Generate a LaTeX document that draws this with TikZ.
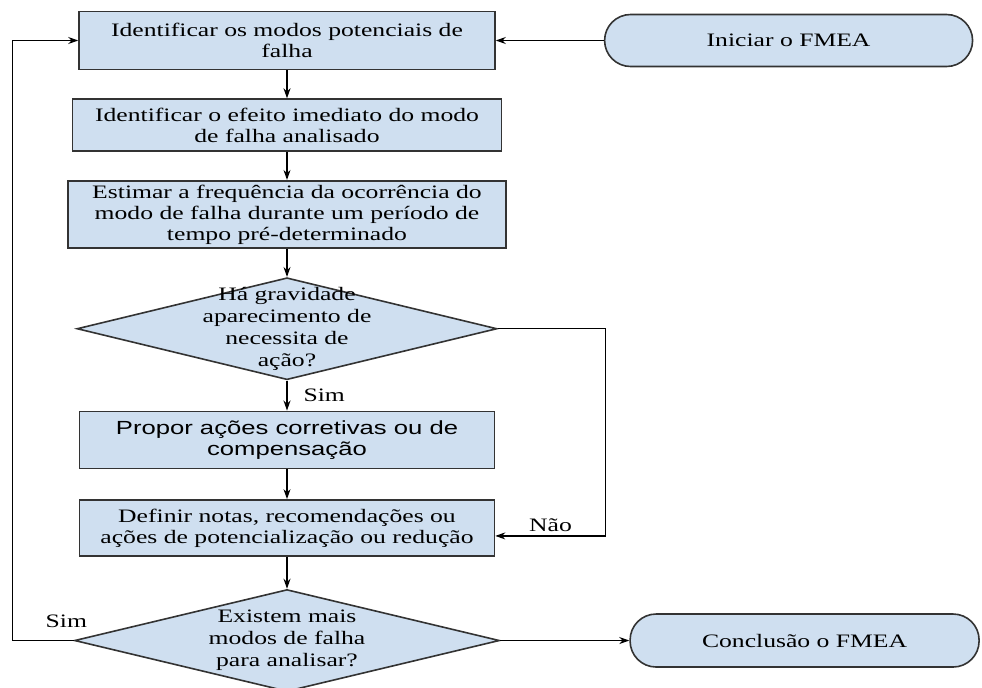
\documentclass[tikz,border=0pt]{standalone}
\usepackage{fontspec}
\setmainfont[FakeStretch=1.35]{Liberation Serif}
\setsansfont[FakeStretch=1.35]{Liberation Sans}
\usepackage{tikz}
\usetikzlibrary{arrows.meta,positioning,shapes.geometric}
\definecolor{boxfill}{HTML}{CFDFF0}
\definecolor{edge}{HTML}{333333}

\begin{document}
\begin{tikzpicture}[
  x=0.5pt, y=-0.5pt,
  node distance=14pt,
  every node/.style={font=\fontsize{9.5pt}{10.5pt}\selectfont},
  proc/.style={rectangle, draw=edge, line width=0.8pt, fill=boxfill,
               align=center, inner sep=2pt},
  term/.style={rectangle, rounded corners=13pt, draw=edge, line width=0.8pt,
               fill=boxfill, minimum height=26pt},
  decision/.style={diamond, draw=edge, line width=0.8pt, fill=boxfill,
                   inner sep=0pt, minimum height=51pt},
  dtext/.style={align=center, font=\fontsize{9.5pt}{11pt}\selectfont},
  flow/.style={-{Stealth[length=5pt,width=3.5pt]}, line width=0.6pt},
  lbl/.style={inner sep=1pt},
]
  \useasboundingbox (0,0) rectangle (982,687);

  \node[proc, minimum width=208pt, minimum height=29pt] (ident) at (287,40.5)
    {Identificar os modos potenciais de\\falha};
  \node[term, minimum width=184pt, right=54pt of ident] (start) {Iniciar o FMEA};
  \node[proc, minimum width=214.5pt, minimum height=26pt, below=of ident] (efeito)
    {Identificar o efeito imediato do modo\\de falha analisado};
  \node[proc, minimum width=219pt, minimum height=32pt, below=of efeito] (freq)
    {Estimar a frequência da ocorrência do\\modo de falha durante um período de\\tempo pré-determinado};
  \node[decision, minimum width=210pt, below=of freq,
        label={[dtext]center:{Há gravidade\\aparecimento de\\necessita de\\ação?}}] (grav) {};
  \node[proc, minimum width=207.5pt, minimum height=28.5pt, below=15pt of grav,
        font=\sffamily\fontsize{9.5pt}{10.5pt}\selectfont] (acoes)
    {Propor ações corretivas ou de\\compensação};
  \node[proc, minimum width=207.5pt, minimum height=28pt, below=15pt of acoes] (notas)
    {Definir notas, recomendações ou\\ações de potencialização ou redução};
  \node[decision, minimum width=212.5pt, below=16pt of notas,
        label={[dtext]center:{Existem mais\\modos de falha\\para analisar?}}] (mais) {};
  \node[term, minimum width=174.5pt, minimum height=26.5pt, right=64.5pt of mais] (fim)
    {Conclusão o FMEA};

  \draw[flow] (start) -- (ident);
  \draw[flow] (ident) -- (efeito);
  \draw[flow] (efeito) -- (freq);
  \draw[flow] (freq) -- (grav);
  \draw[flow] (grav) -- node[lbl, right=7pt] {Sim} (acoes);
  \draw[flow] (acoes) -- (notas);
  \draw[flow] (notas) -- (mais);
  \draw[flow] (mais) -- (fim);
  % ramo "Não" pela direita
  \draw[flow] (grav.east) -- ++(108,0) |- node[lbl, pos=0.75, above=1pt] {Não}
    ([yshift=-4pt]notas.east);
  % volta ao início
  \draw[flow] (mais.west) -- node[lbl, pos=0.12, above=5pt] {Sim} ++(-61,0)
    |- (ident.west);
\end{tikzpicture}
\end{document}
